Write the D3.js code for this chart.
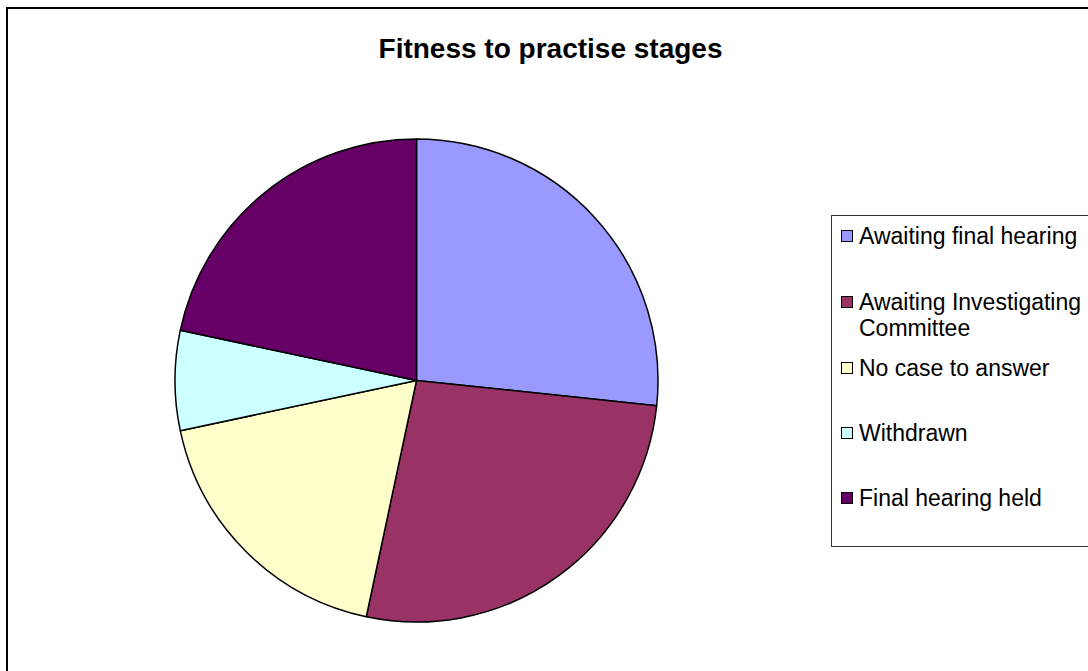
<!DOCTYPE html>
<html><head><meta charset="utf-8">
<script src="https://cdn.jsdelivr.net/npm/d3@7"></script>
<style>body{margin:0;background:#fff}svg{display:block}</style>
</head><body>
<svg id="c" width="1088" height="671"></svg>
<script>
const categories = ["Awaiting final hearing", "Awaiting Investigating Committee", "No case to answer", "Withdrawn", "Final hearing held"];
const legendLines = [["Awaiting final hearing"], ["Awaiting Investigating", "Committee"], ["No case to answer"], ["Withdrawn"], ["Final hearing held"]];
const values = [16, 16, 11, 4, 13];
const colors = ["#9999FF", "#993366", "#FFFFCC", "#CCFFFF", "#660066"];
const title = "Fitness to practise stages";

const svg = d3.select("#c");
const font = "'Liberation Sans', Arial, sans-serif";

// outer chart border
svg.append("rect").attr("x", 7).attr("y", 8).attr("width", 1100).attr("height", 700)
  .attr("fill", "#fff").attr("stroke", "#000").attr("stroke-width", 2);

svg.append("text").attr("x", 550.5).attr("y", 58).attr("text-anchor", "middle")
  .attr("font-family", font).attr("font-weight", "bold").attr("font-size", 28).text(title);

const cx = 416.5, cy = 380.5, r = 241.5;
const pie = d3.pie().sort(null).value(d => d)(values);
const arc = d3.arc().innerRadius(0).outerRadius(r);
const color = d3.scaleOrdinal().domain(categories).range(colors);

svg.append("g").attr("transform", `translate(${cx},${cy})`)
  .selectAll("path").data(pie).join("path")
  .attr("d", arc)
  .attr("fill", (d, i) => color(categories[i]))
  .attr("stroke", "#000").attr("stroke-width", 1.5).attr("stroke-linejoin", "round");

// legend
const lg = svg.append("g");
lg.append("rect").attr("x", 831.5).attr("y", 215.5).attr("width", 270).attr("height", 331)
  .attr("fill", "#fff").attr("stroke", "#333").attr("stroke-width", 1);
const rowY = [236, 302, 368, 433, 498];
categories.forEach((c, i) => {
  lg.append("rect").attr("x", 841.5).attr("y", rowY[i] - 5.5).attr("width", 11).attr("height", 11)
    .attr("fill", color(c)).attr("stroke", "#000").attr("stroke-width", 1);
  legendLines[i].forEach((t, j) => {
    lg.append("text").attr("x", 859).attr("y", rowY[i] + 8 + j * 26)
      .attr("font-family", font).attr("font-size", 23).attr("fill", "#000").text(t);
  });
});
</script>
</body></html>
